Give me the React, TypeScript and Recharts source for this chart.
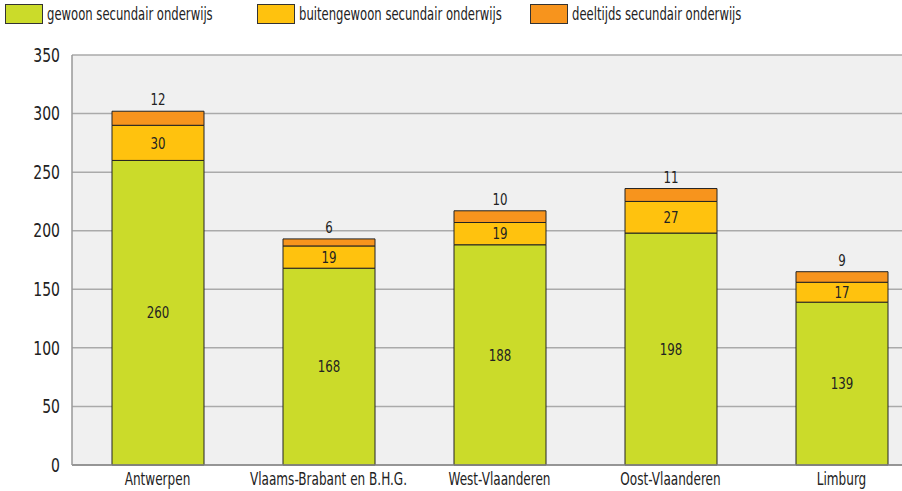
import { BarChart, Bar, XAxis, YAxis, CartesianGrid, LabelList } from 'recharts'

const regions = ['Antwerpen', 'Vlaams-Brabant en B.H.G.', 'West-Vlaanderen', 'Oost-Vlaanderen', 'Limburg']
const gewoon = [260, 168, 188, 198, 139]
const buitengewoon = [30, 19, 19, 27, 17]
const deeltijds = [12, 6, 10, 11, 9]
const yTicks = [0, 50, 100, 150, 200, 250, 300, 350]

const series = [
  { key: 'gewoon', name: 'gewoon secundair onderwijs', color: '#cbdb2a' },
  { key: 'buitengewoon', name: 'buitengewoon secundair onderwijs', color: '#ffc20e' },
  { key: 'deeltijds', name: 'deeltijds secundair onderwijs', color: '#f7941d' },
]

const data = regions.map((region, i) => ({
  region,
  gewoon: gewoon[i],
  buitengewoon: buitengewoon[i],
  deeltijds: deeltijds[i],
}))

// no narrow face installed, so the condensed look comes from a horizontal squeeze
const font = '"DejaVu Sans Condensed", "DejaVu Sans", sans-serif'
const textSqueeze = 0.79
const legendSqueeze = 0.76
const numberSqueeze = 0.82
const legendWidths = [252, 273, 300]

function XTick({ x, y, payload }: any) {
  return (
    <g transform={`translate(${x},${y})`}>
      <text
        transform={`scale(${textSqueeze},1)`}
        textAnchor="middle"
        dy="0.71em"
        fill="#222"
        fontSize={17}
        fontFamily={font}
      >
        {payload.value}
      </text>
    </g>
  )
}

function YTick({ x, y, payload }: any) {
  return (
    <g transform={`translate(${x},${y})`}>
      <text
        transform={`scale(${numberSqueeze},1)`}
        textAnchor="end"
        dy="0.355em"
        fill="#222"
        fontSize={19}
        fontFamily={font}
      >
        {payload.value}
      </text>
    </g>
  )
}

function valueLabel(onTop: boolean) {
  return (props: any) => {
    const { x, y, width, height, value } = props
    const cx = Number(x) + Number(width) / 2
    const cy = onTop ? Number(y) - 6 : Number(y) + Number(height) / 2
    return (
      <g transform={`translate(${cx},${cy})`}>
        <text
          transform={`scale(${numberSqueeze},1)`}
          textAnchor="middle"
          dy={onTop ? 0 : '0.355em'}
          fill="#222"
          fontSize={16}
          fontFamily={font}
        >
          {value}
        </text>
      </g>
    )
  }
}

function ChartLegend() {
  return (
    <div
      style={{
        position: 'absolute',
        top: 4,
        left: 5,
        display: 'flex',
        fontFamily: font,
        fontSize: 17,
        color: '#222',
        whiteSpace: 'nowrap',
      }}
    >
      {series.map((s, i) => (
        <div key={s.key} style={{ display: 'flex', alignItems: 'center', width: legendWidths[i] }}>
          <span
            style={{
              display: 'inline-block',
              width: 36,
              height: 18,
              background: s.color,
              border: '1px solid #333',
              marginRight: 4,
              flexShrink: 0,
            }}
          />
          <span style={{ display: 'inline-block', transform: `scaleX(${legendSqueeze})`, transformOrigin: 'left center' }}>
            {s.name}
          </span>
        </div>
      ))}
    </div>
  )
}

export default function App() {
  return (
    <div style={{ position: 'absolute', top: 0, left: 0, width: 902, height: 491, overflow: 'hidden', background: '#fff' }}>
      <BarChart
        width={930}
        height={491}
        data={data}
        margin={{ top: 55, right: 3, bottom: 0, left: 0 }}
        barSize={92}
      >
        <CartesianGrid vertical={false} fill="#f0f0f0" stroke="#aaa" strokeWidth={1.5} />
        <XAxis
          dataKey="region"
          height={26}
          tickLine={false}
          tickSize={4}
          tickMargin={4}
          axisLine={{ stroke: '#888', strokeWidth: 1.5 }}
          tick={<XTick />}
          interval={0}
        />
        <YAxis
          width={72}
          domain={[0, 350]}
          ticks={yTicks}
          tickLine={false}
          tickMargin={6}
          axisLine={{ stroke: '#999', strokeWidth: 1.5 }}
          tick={<YTick />}
        />
        {series.map((s) => (
          <Bar
            key={s.key}
            dataKey={s.key}
            name={s.name}
            stackId="a"
            fill={s.color}
            stroke="#222"
            strokeWidth={1}
            isAnimationActive={false}
          >
            <LabelList dataKey={s.key} content={valueLabel(s.key === 'deeltijds')} />
          </Bar>
        ))}
      </BarChart>
      <ChartLegend />
    </div>
  )
}
